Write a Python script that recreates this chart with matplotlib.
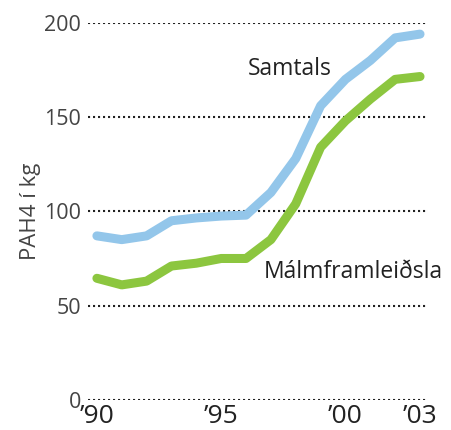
import matplotlib.pyplot as plt

years = list(range(1990, 2004))
samtals = [87, 85, 87, 95, 96.5, 97.5, 98, 110, 128, 156, 170, 180, 192, 194]
malmframleidsla = [64.5, 61, 63, 71, 72.5, 75, 75, 85, 104, 134, 148, 159.5, 170, 171.5]

y_ticks = [0, 50, 100, 150, 200]
x_ticks = [1990, 1995, 2000, 2003]
x_labels = ["’90", "’95", "’00", "’03"]

plt.rcParams['font.family'] = ['Open Sans', 'DejaVu Sans']

fig = plt.figure(figsize=(4.51, 4.30), dpi=100)
ax = fig.add_axes([0.195, 0.07, 0.754, 0.877])

# dotted gridlines
for v in y_ticks:
    ax.axhline(v, color="#222222", linestyle=(0, (1, 1.4)), linewidth=1.5, zorder=1)

ax.plot(years, samtals, color="#93c6ea", linewidth=6.5, solid_capstyle="round",
        solid_joinstyle="round", zorder=3)
ax.plot(years, malmframleidsla, color="#8cc63f", linewidth=6.5, solid_capstyle="round",
        solid_joinstyle="round", zorder=3)

ax.text(1997.75, 175.5, "Samtals", fontsize=16.5, color="#222222", ha="center", va="center")
ax.text(1996.7, 68, "Málmframleiðsla", fontsize=16.5, color="#222222", ha="left", va="center")

ax.set_xlim(1989.64, 2003.32)
ax.set_ylim(0, 200)
ax.set_yticks(y_ticks)
ax.set_yticklabels([str(v) for v in y_ticks], fontsize=15.5, color="#444444")
ax.set_xticks(x_ticks)
ax.set_xticklabels(x_labels, fontsize=19, color="#222222")
ax.tick_params(axis="y", length=0, pad=5)
ax.tick_params(axis="x", length=0, pad=3)
ax.set_ylabel("PAH4 í kg", fontsize=16, color="#444444", labelpad=2)

for s in ax.spines.values():
    s.set_visible(False)

plt.savefig("out.png", dpi=100)
